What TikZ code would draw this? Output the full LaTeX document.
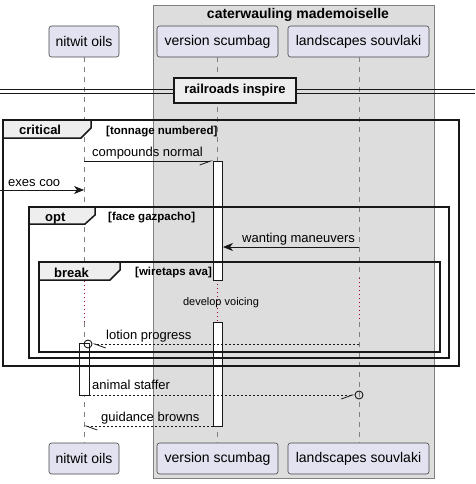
\documentclass[tikz,border=0pt]{standalone}
\usepackage{fontspec}
\setmainfont{Liberation Sans}
\usetikzlibrary{arrows.meta, positioning, calc}
\definecolor{partfill}{RGB}{226, 226, 240}
\definecolor{partline}{RGB}{24, 24, 24}
\definecolor{boxgray}{RGB}{221, 221, 221}
\definecolor{tabgray}{RGB}{238, 238, 238}
\definecolor{delayred}{RGB}{168, 0, 54}

\begin{document}
\begin{tikzpicture}[x=1pt, y=-1pt,
  participant/.style={draw=partline!80, fill=partfill, rounded corners=2.5pt, line width=0.6pt, minimum height=31pt, inner sep=0pt, font=\fontsize{14}{16}\selectfont},
  lifeline/.style={gray, line width=0.6pt, dash pattern=on 5pt off 5pt},
  delayline/.style={delayred, line width=0.9pt, dash pattern=on 1pt off 3pt},
  msg/.style={partline, line width=0.8pt},
  reply/.style={msg, dash pattern=on 2pt off 2pt},
  msglabel/.style={anchor=base west, inner sep=0pt, font=\fontsize{13}{15}\selectfont},
  tab/.style={partline, line width=1.5pt, fill=tabgray},
  framebox/.style={partline, line width=1.5pt},
  tablabel/.style={anchor=base west, inner sep=0pt, font=\fontsize{13}{15}\selectfont\bfseries},
  guard/.style={anchor=base west, inner sep=0pt, font=\fontsize{11.5}{13}\selectfont\bfseries},
  activation/.style={draw=partline, fill=white, line width=0.8pt, anchor=north west, inner sep=0pt, minimum width=9pt},
  ringend/.style={circle, draw=partline, line width=0.9pt, inner sep=0pt, minimum size=8pt},
  filled/.style={-{Stealth[length=10pt, width=8pt, inset=3pt]}},
  halfL/.style={-{Straight Barb[left, length=11pt, width=8pt]}},
  halfR/.style={-{Straight Barb[right, length=11pt, width=8pt]}}
]
  \useasboundingbox (0,0) rectangle (475,484);

  % Group box
  \node[draw=gray, fill=boxgray, line width=0.8pt, anchor=north west, inner sep=0pt, minimum width=281pt, minimum height=473pt] (caterBox) at (153,5) {};
  \node[anchor=base, inner sep=0pt, font=\fontsize{14}{16}\selectfont\bfseries] (caterTitle) at (298,19) {caterwauling mademoiselle};

  % Participants
  \node[participant, minimum width=70pt] (oilsTop) at (84,41.5) {nitwit oils};
  \node[participant, minimum width=121pt] (scumbagTop) at (217.5,41.5) {version scumbag};
  \node[participant, minimum width=141pt] (souvlakiTop) at (358.5,41.5) {landscapes souvlaki};
  \node[participant, minimum width=70pt] (oilsBot) at (84,458.5) {nitwit oils};
  \node[participant, minimum width=121pt] (scumbagBot) at (217.5,458.5) {version scumbag};
  \node[participant, minimum width=141pt] (souvlakiBot) at (358.5,458.5) {landscapes souvlaki};

  % Lifelines, with the delay
  \coordinate (oilsDelayA) at (84,281);
  \coordinate (oilsDelayB) at (84,322);
  \coordinate (scumbagDelayA) at (217,280);
  \coordinate (scumbagDelayB) at (217,322);
  \coordinate (souvlakiDelayA) at (359,278);
  \coordinate (souvlakiDelayB) at (359,322);
  \draw[lifeline] (oilsTop) -- (oilsDelayA);
  \draw[lifeline] (oilsDelayB) -- (oilsBot);
  \draw[lifeline] (scumbagTop.south -| scumbagDelayA) -- (scumbagDelayA);
  \draw[lifeline] (scumbagDelayB) -- (scumbagBot.north -| scumbagDelayB);
  \draw[lifeline] (souvlakiTop.south -| souvlakiDelayA) -- (souvlakiDelayA);
  \draw[lifeline] (souvlakiDelayB) -- (souvlakiBot.north -| souvlakiDelayB);
  \draw[delayline] (oilsDelayA) -- (oilsDelayB);
  \draw[delayline] (scumbagDelayA) -- (scumbagDelayB);
  \draw[delayline] (souvlakiDelayA) -- (souvlakiDelayB);
  \node[anchor=base, inner sep=0pt, font=\fontsize{11}{13}\selectfont] (delayLabel) at (221,305) {develop voicing};

  % Activations
  \node[activation, minimum height=119pt] (scumbagAct) at (213,161) {};
  \node[activation, minimum height=104pt] (scumbagActB) at (213,322) {};
  \node[activation, minimum width=10pt, minimum height=52pt] (oilsAct) at (79,343) {};

  % Divider
  \coordinate (divLeftA) at (0,89);
  \coordinate (divRightA) at (475,89);
  \coordinate (divLeftB) at (0,93);
  \coordinate (divRightB) at (475,93);
  \draw[partline, line width=0.8pt] (divLeftA) -- (divRightA);
  \draw[partline, line width=0.8pt] (divLeftB) -- (divRightB);
  \node[draw=partline, fill=tabgray, line width=2pt, minimum width=122pt, minimum height=25pt, inner sep=0pt, font=\fontsize{13}{15}\selectfont\bfseries] (railDivider) at (235,90.5) {railroads inspire};

  % Frames
  \draw[tab] (3,120) -- (91,120) -- (91,128) -- (81,138) -- (3,138) -- cycle;
  \draw[framebox] (3,120) rectangle (459,366);
  \node[tablabel] (critLabel) at (19,135) {critical};
  \node[guard] (critGuard) at (106,134) {[tonnage numbered]};

  \draw[tab] (29,207) -- (95,207) -- (95,215) -- (85,224) -- (29,224) -- cycle;
  \draw[framebox] (29,207) rectangle (449,358);
  \node[tablabel] (optLabel) at (45,221) {opt};
  \node[guard] (optGuard) at (108,220) {[face gazpacho]};

  \draw[tab] (39,262) -- (120,262) -- (120,270) -- (110,280) -- (39,280) -- cycle;
  \draw[framebox] (39,262) rectangle (440,352);
  \node[tablabel] (breakLabel) at (54,277) {break};
  \node[guard] (breakGuard) at (135,275) {[wiretaps ava]};

  % Messages
  \coordinate (cnStart) at (84,161);
  \coordinate (cnEnd) at (213,161);
  \draw[msg, halfR] (cnStart) -- (cnEnd);
  \node[msglabel] (cnLabel) at (92,156) {compounds normal};

  \coordinate (ecStart) at (0,190);
  \coordinate (ecEnd) at (84,190);
  \draw[msg, filled] (ecStart) -- (ecEnd);
  \node[msglabel] (ecLabel) at (8,186) {exes coo};

  \coordinate (wmStart) at (359,247);
  \coordinate (wmEnd) at (223,247);
  \draw[msg, filled] (wmStart) -- (wmEnd);
  \node[msglabel] (wmLabel) at (242,242) {wanting maneuvers};

  \node[ringend] (lotionRing) at (88,344) {};
  \coordinate (lpStart) at (359,344);
  \draw[reply, halfL] (lpStart) -- (lotionRing);
  \node[msglabel] (lpLabel) at (106,339) {lotion progress};

  \node[ringend] (stafferRing) at (359,395) {};
  \coordinate (asStart) at (89,395);
  \draw[reply, halfR] (asStart) -- (stafferRing);
  \node[msglabel] (asLabel) at (92,389) {animal staffer};

  \coordinate (gbStart) at (213,426);
  \coordinate (gbEnd) at (84,426);
  \draw[reply, halfL] (gbStart) -- (gbEnd);
  \node[msglabel] (gbLabel) at (101,421) {guidance browns};
\end{tikzpicture}
\end{document}
